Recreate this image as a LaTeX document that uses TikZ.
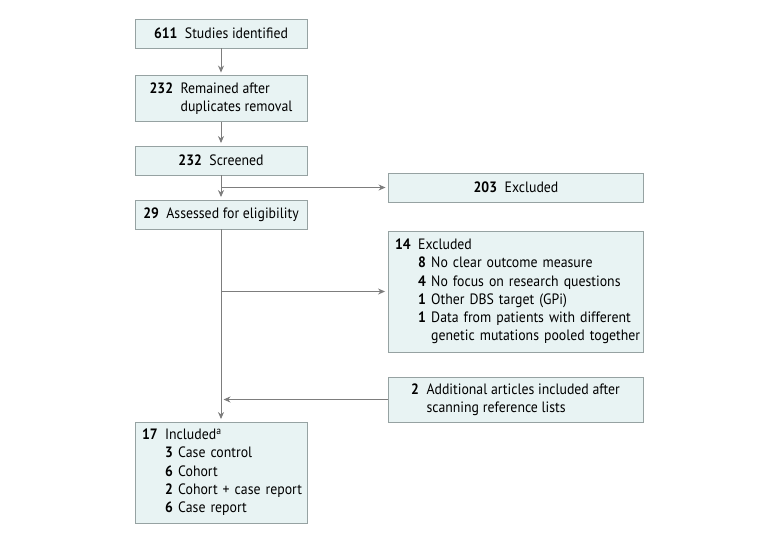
\documentclass[tikz,border=0pt]{standalone}
\usepackage{fontspec}
\setmainfont[FakeStretch=0.92]{PT Sans}
\usetikzlibrary{arrows.meta}

\definecolor{boxfill}{RGB}{232,243,243}
\definecolor{boxline}{RGB}{150,162,162}
\definecolor{linkgray}{RGB}{125,125,125}

\tikzset{
  box/.style={draw=boxline, fill=boxfill, line width=0.9pt, inner sep=0pt,
    font=\fontsize{15}{18.3}\selectfont},
  narrowbox/.style={box, minimum width=172},
  widebox/.style={box, minimum width=255},
  listbox/.style={box, align=left, inner xsep=7pt},
  link/.style={draw=linkgray, line width=0.9pt, shorten >=2.5pt,
    -{Stealth[length=7pt,width=6pt]}}
}

\begin{document}
\begin{tikzpicture}[x=1pt, y=-1pt]
  \useasboundingbox (0,0) rectangle (780,542);

  % main column
  \node[narrowbox, minimum height=29] (ident) at (221,33.5)
    {\textbf{611}\enspace Studies identified};
  \node[narrowbox, minimum height=46] (dedup) at (221,98.5)
    {\begin{tabular}{@{}l@{\enspace}l@{}}
      \textbf{232} & Remained after\\
       & duplicates removal
     \end{tabular}};
  \node[narrowbox, minimum height=29] (screened) at (221,160.5)
    {\textbf{232}\enspace Screened};
  \node[narrowbox, minimum height=29] (assessed) at (221,214.5)
    {\textbf{29}\enspace Assessed for eligibility};
  \node[listbox, minimum height=101, text width=158] (incl) at (221,472.5)
    {\begin{tabular}{@{}l@{\enspace}l@{\hspace{0.35em}}l@{}}
      \textbf{17} & \multicolumn{2}{@{}l@{}}{Included\textsuperscript{a}}\\
       & \textbf{3} & Case control\\
       & \textbf{6} & Cohort\\
       & \textbf{2} & Cohort + case report\\
       & \textbf{6} & Case report
     \end{tabular}};

  % side boxes
  \node[widebox, minimum height=29] (excl1) at (516,187.5)
    {\textbf{203}\enspace Excluded};
  \node[listbox, minimum height=121, text width=241] (excl2) at (515.5,291.5)
    {\begin{tabular}{@{}l@{\enspace}l@{\hspace{0.35em}}l@{}}
      \textbf{14} & \multicolumn{2}{@{}l@{}}{Excluded}\\
       & \textbf{8} & No clear outcome measure\\
       & \textbf{4} & No focus on research questions\\
       & \textbf{1} & Other DBS target (GPi)\\
       & \textbf{1} & Data from patients with different\\
       & & genetic mutations pooled together
     \end{tabular}};
  \node[widebox, minimum height=45] (extra) at (515.5,399.5)
    {\begin{tabular}{@{}l@{\enspace}l@{}}
      \textbf{2} & Additional articles included after\\
       & scanning reference lists
     \end{tabular}};

  % branch points on the trunk
  \coordinate (b1) at (screened.south |- excl1.west);
  \coordinate (b2) at (assessed.south |- excl2.west);
  \coordinate (b3) at (assessed.south |- extra.west);

  \draw[link] (ident) -- (dedup);
  \draw[link] (dedup) -- (screened);
  \draw[link] (screened) -- (assessed);
  \draw[link] (assessed) -- (incl);
  \draw[link] (b1) -- (excl1);
  \draw[link] (b2) -- (excl2);
  \draw[link] (extra) -- (b3);
\end{tikzpicture}
\end{document}
